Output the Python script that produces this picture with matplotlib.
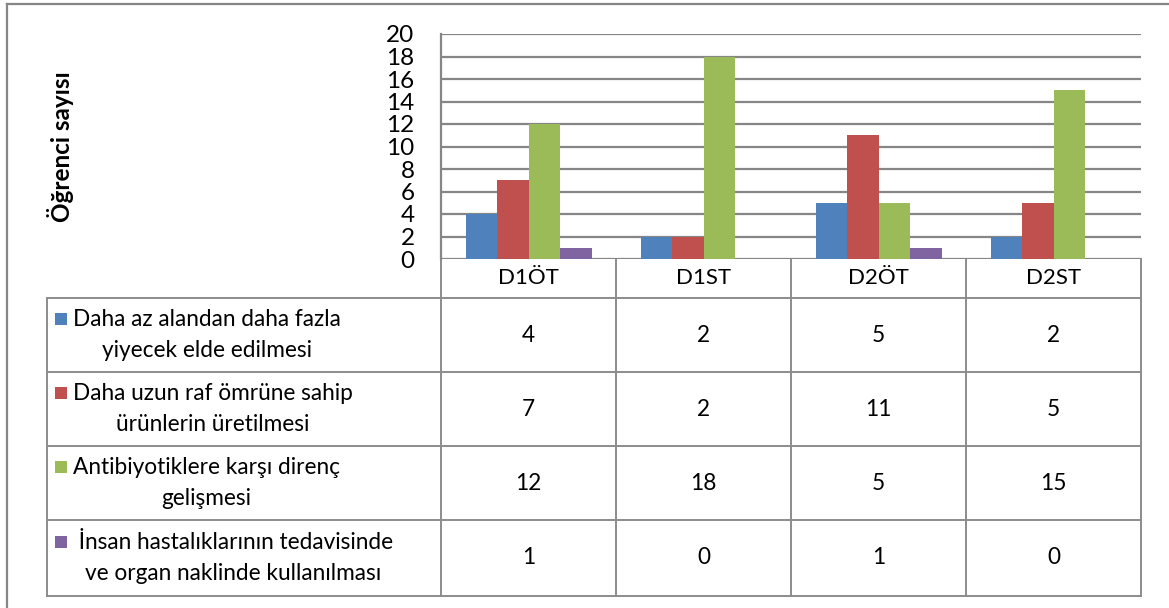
import matplotlib
matplotlib.use("Agg")
import matplotlib.pyplot as plt
import numpy as np
from matplotlib.transforms import blended_transform_factory

plt.rcParams['font.family'] = ['Lato', 'DejaVu Sans']

categories = ["D1ÖT", "D1ST", "D2ÖT", "D2ST"]
series_names = [
    "Daha az alandan daha fazla\nyiyecek elde edilmesi",
    "Daha uzun raf ömrüne sahip\nürünlerin üretilmesi",
    "Antibiyotiklere karşı direnç\ngelişmesi",
    " İnsan hastalıklarının tedavisinde\nve organ naklinde kullanılması",
]
daha_az_alan = [4, 2, 5, 2]
raf_omru = [7, 2, 11, 5]
antibiyotik = [12, 18, 5, 15]
insan_hastalik = [1, 0, 1, 0]
series = [daha_az_alan, raf_omru, antibiyotik, insan_hastalik]
colors = ["#4F81BD", "#C0504D", "#9BBB59", "#8064A2"]
yticks = list(range(0, 21, 2))

W, H = 1169, 608
grid_col = "#868686"

fig = plt.figure(figsize=(W / 100, H / 100), dpi=100)

# pixel-space layer for the frame and the data table
tab = fig.add_axes([0, 0, 1, 1])
tab.set_xlim(0, W)
tab.set_ylim(H, 0)
tab.axis("off")

# chart area
left, right, top, bottom = 441, 1141, 34, 259
ax = fig.add_axes([left / W, 1 - bottom / H, (right - left) / W, (bottom - top) / H])
ax.set_facecolor("none")

x = np.arange(len(categories))
bw = 0.18
for k, (vals, c) in enumerate(zip(series, colors)):
    ax.bar(x + (k - 1.5) * bw, vals, width=bw, color=c, zorder=3)

ax.set_xlim(-0.5, len(categories) - 0.5)
ax.set_ylim(0, 20)
ax.set_yticks(yticks)
ax.set_yticklabels([str(v) for v in yticks], fontsize=17.5)
ax.set_xticks([])
ax.tick_params(axis="y", length=0, pad=19)
ax.yaxis.grid(True, color=grid_col, linewidth=1.6, zorder=0)
for s in ["top", "right", "bottom"]:
    ax.spines[s].set_visible(False)
ax.spines["left"].set_color(grid_col)
ax.spines["left"].set_linewidth(1.6)
ax.set_ylabel("Öğrenci sayısı", fontsize=17.5, fontweight="bold", labelpad=0)
ax.yaxis.set_label_coords(-0.525, 0.5, transform=ax.transAxes)

# outer frame
tab.plot([7, 7], [4, H], color=grid_col, lw=1.6)
tab.plot([7, W], [4, 4], color=grid_col, lw=1.6)

# data table below the chart
tr = blended_transform_factory(ax.transData, tab.transData)
header_bot = 298
rows = [298, 372, 446, 520, 596]
tab_left = 47
lc = "#8c8c8c"
for r in rows:
    tab.plot([tab_left, right], [r, r], color=lc, lw=1.4)
tab.plot([tab_left, tab_left], [rows[0], rows[-1]], color=lc, lw=1.4)
for b in np.arange(-0.5, len(categories), 1.0):
    tab.plot([b, b], [bottom, rows[-1]], color=lc, lw=1.4, transform=tr)

for i, cat in enumerate(categories):
    tab.text(i, (bottom + header_bot) / 2, cat, ha="center", va="center",
             fontsize=16, transform=tr)

for k, (name, vals, c) in enumerate(zip(series_names, series, colors)):
    r0, r1 = rows[k], rows[k + 1]
    mid = (r0 + r1) / 2
    tab.add_patch(plt.Rectangle((55, mid - 22), 12, 12, color=c, lw=0))
    tab.text(73, mid, name, ha="left", va="center", multialignment="center",
             fontsize=16.3, linespacing=1.6)
    for i, v in enumerate(vals):
        tab.text(i, mid, str(v), ha="center", va="center", fontsize=16.3, transform=tr)

fig.savefig("out.png", dpi=100)
